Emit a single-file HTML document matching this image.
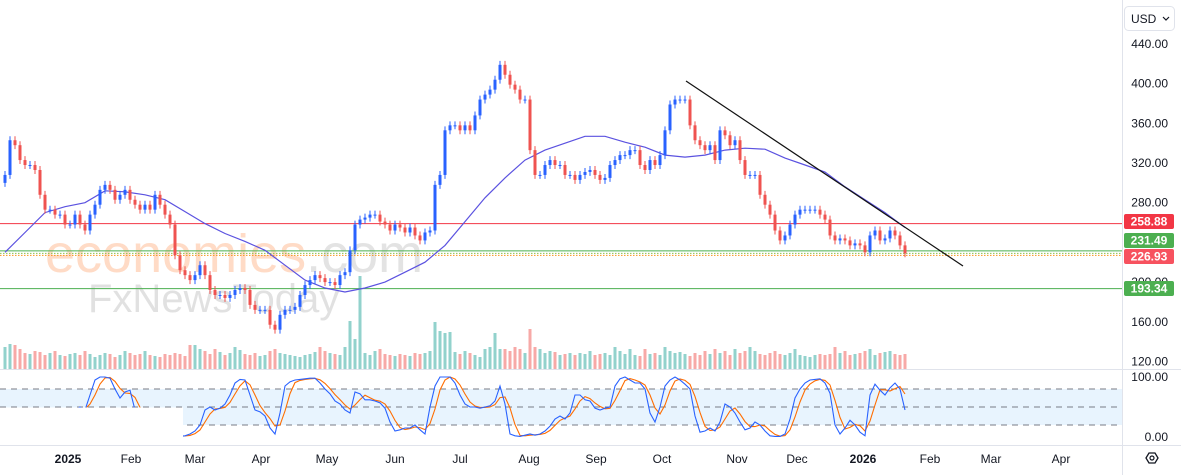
<!DOCTYPE html>
<html><head><meta charset="utf-8"><style>
html,body{margin:0;padding:0;background:#fff;overflow:hidden}
svg{display:block;font-family:"Liberation Sans",sans-serif}
</style></head><body>
<svg id="c" width="1181" height="475" viewBox="0 0 1181 475">
<rect width="1181" height="475" fill="#fff"/>
<g>
<text x="45" y="272" font-size="54" fill="#ffb080" fill-opacity="0.45">economies<tspan fill="#d0d0d0" fill-opacity="0.6">.com</tspan></text>
<text x="88" y="312" font-size="40" fill="#c8c8c8" fill-opacity="0.55">FxNewsToday</text>
</g>
<g id="vol"></g>
<g id="levels"></g>
<g id="ma"></g>
<g id="candles"></g>
<line x1="686" y1="81" x2="963" y2="266" stroke="#111" stroke-width="1.2"/>
<line x1="0" y1="369.5" x2="1181" y2="369.5" stroke="#e0e3eb"/>
<g id="stoch"></g>
<line x1="0" y1="445.5" x2="1181" y2="445.5" stroke="#e0e3eb"/>
<line x1="1122.5" y1="0" x2="1122.5" y2="475" stroke="#e0e3eb"/>
<g id="paxis"></g>
<g id="taxis"></g>
<g>
<rect x="1124.5" y="6.5" width="50" height="24" rx="4" fill="#fff" stroke="#e0e3eb"/>
<text x="1131" y="23" font-size="12" fill="#131722">USD</text>
<path d="M1163 17 l3 3 l3 -3" fill="none" stroke="#131722" stroke-width="1.2"/>
</g>
<g>
<polygon points="1146,458 1149,453 1155,453 1158,458 1155,463 1149,463" fill="none" stroke="#131722" stroke-width="1.3"/>
<circle cx="1152" cy="458" r="2" fill="none" stroke="#131722" stroke-width="1.2"/>
</g>
</svg>
<script>
const closes=[308,343,338,323,318,318,313,288,273,273,268,268,258,258,268,258,252,268,278,293,298,293,283,288,293,283,278,273,278,273,288,278,268,258,227,212,207,202,207,217,207,192,187,187,184,187,192,194,192,177,172,172,172,157,152,167,172,172,175,187,197,202,207,204,200,200,197,207,210,232,258,263,265,268,268,261,258,252,258,255,250,255,247,242,250,252,298,308,353,358,358,353,358,353,368,384,389,394,404,419,409,399,394,384,384,333,308,308,318,323,318,318,308,308,303,308,311,313,308,303,305,318,323,328,328,333,333,318,313,323,318,328,353,379,384,384,384,358,343,338,333,338,323,353,348,338,343,323,308,308,308,288,278,268,252,242,247,258,268,273,273,273,273,268,263,247,242,244,242,237,239,237,230,247,252,242,244,252,247,237,229];
const openFirst=300;
const volumes=[22,25,24,20,16,15,18,17,14,16,18,14,13,15,16,14,18,15,12,14,16,15,12,14,18,16,14,15,18,14,13,12,15,14,16,15,13,24,24,20,18,15,20,17,14,16,22,19,15,14,16,13,14,18,20,16,15,14,13,12,14,15,17,22,18,16,15,14,22,48,30,93,16,14,18,20,15,14,13,15,14,13,16,15,16,18,47,38,36,37,17,15,18,16,14,12,20,22,36,20,20,18,22,20,16,40,22,20,16,18,17,14,15,16,14,16,15,18,14,15,16,14,22,18,15,20,14,13,20,15,16,14,22,18,16,17,15,13,16,14,18,15,20,16,18,14,20,16,18,22,18,15,14,16,18,15,14,16,20,14,13,12,14,15,14,15,22,16,18,14,15,16,18,20,14,16,17,18,15,14,15];
const stochK=[40,45,40,35,30,25,30,20,15,15,20,30,35,40,45,50,45,70,95,100,100,98,80,65,75,78,45,25,15,10,10,8,5,3,2,1,2,5,10,20,45,50,45,48,55,70,90,96,95,70,45,42,35,15,5,40,85,92,95,96,97,98,98,90,80,72,60,55,45,40,75,72,62,62,60,57,48,25,10,12,15,15,20,12,5,50,85,100,100,100,90,70,55,50,50,48,50,52,60,85,55,5,2,1,3,5,3,5,10,18,30,35,30,40,70,70,62,60,48,45,48,50,85,97,100,95,90,90,80,40,25,50,85,95,100,95,88,80,35,8,10,15,10,25,55,50,40,25,12,15,25,20,10,2,1,1,5,30,65,80,90,95,96,97,90,73,20,5,15,28,20,8,2,70,88,78,70,82,90,80,45];
const maValues=[230,250,270,276,280,292,291,288,283,271,259,249,241,232,217,202,194,190,194,200,210,220,237,261,285,305,323,333,340,347,347,341,336,328,326,328,333,335,334,325,318,311,296,283,270,255];
const priceTicks=[440,400,360,320,280,200,160,120];
const levelValues=[258.88,231.49,226.93,193.34];
const monthLabels=["2025","Feb","Mar","Apr","May","Jun","Jul","Aug","Sep","Oct","Nov","Dec","2026","Feb","Mar","Apr"];
const monthPos=[68,131,195,261,327,395,460,529,596,662,737,797,863,930,991,1061];

const NS="http://www.w3.org/2000/svg";
const xOf=i=>5+5*i;
const yP=p=>44+(440-p)*0.992;
const yV=v=>369-v;
const yS=s=>437-s*0.6;
function mk(tag,attrs,parent){const e=document.createElementNS(NS,tag);for(const k in attrs)e.setAttribute(k,attrs[k]);parent.appendChild(e);return e;}
const G=id=>document.getElementById(id);

// volumes + candles
const n=Math.min(closes.length,volumes.length);
for(let i=0;i<closes.length;i++){
  const c=closes[i],o=i?closes[i-1]:openFirst,up=c>=o,x=xOf(i);
  if(i<volumes.length){
    const vb=mk('rect',{x:x-1.5,y:yV(volumes[i]),width:3,height:volumes[i],fill:up?'#26a69a':'#ef5350','fill-opacity':0.5},G('vol'));
    
    
  }
  const col=up?'#2962ff':'#ef5350';
  const hi=Math.max(o,c)+4,lo=Math.min(o,c)-4;
  const w=mk('line',{x1:x,x2:x,y1:yP(hi),y2:yP(lo),stroke:col,'stroke-width':1},G('candles'));
  
  
  const top=yP(Math.max(o,c)),bot=yP(Math.min(o,c));
  const b=mk('rect',{x:x-1.5,y:top,width:3,height:Math.max(1,bot-top),fill:col},G('candles'));
  
  
}
// MA
let d='';maValues.forEach((v,k)=>{d+=(k?'L':'M')+xOf(k*4)+' '+yP(v).toFixed(1);});
const mp=mk('path',{d:d,fill:'none',stroke:'#5b52e0','stroke-width':1.2},G('ma'));


// levels
const lvCols=['#f23645','#4caf50','#f7931a','#4caf50'];
const lvBox=['#f23645','#4caf50','#f7525f','#4caf50'];
const lvLabelY=[221,240,256,288];
levelValues.forEach((v,k)=>{
  const y=yP(v);
  const l=mk('line',{x1:0,x2:1122,y1:y,y2:y,stroke:lvCols[k],'stroke-width':1,'stroke-dasharray':k==2?'1.5 1.5':'none'},G('levels'));
  
  
  if(k==2){const l2=mk('line',{x1:0,x2:1122,y1:y-2,y2:y-2,stroke:'#8bc34a','stroke-width':1,'stroke-dasharray':'1.5 1.5'},G('levels'));
    
    }
});
// price axis
priceTicks.forEach(p=>{
  const t=mk('text',{x:1168,y:yP(p)+4,'font-size':12,fill:'#131722','text-anchor':'end'},G('paxis'));
  t.textContent=p.toFixed(2);
  
  
});
levelValues.forEach((v,k)=>{
  const r=mk('rect',{x:1124,y:lvLabelY[k]-7,width:50,height:15,rx:2,fill:lvBox[k]},G('paxis'));
  
  
  const t=mk('text',{x:1149,y:lvLabelY[k]+4.5,'font-size':12,'font-weight':'bold',fill:'#fff','text-anchor':'middle'},G('paxis'));
  t.textContent=v.toFixed(2);
  
  
});
[[100,'100.00'],[0,'0.00']].forEach(([s,l])=>{
  const t=mk('text',{x:1168,y:s?381:441,'font-size':12,fill:'#131722','text-anchor':'end'},G('paxis'));
  t.textContent=l;
  
  
});
// stochastic
const S=G('stoch');
const band=mk('rect',{x:0,y:yS(80),width:1122,height:yS(20)-yS(80),fill:'#2196f3','fill-opacity':0.1},S);


[80,50,20].forEach(v=>{
  const l=mk('line',{x1:0,x2:1122,y1:yS(v),y2:yS(v),stroke:'#787b86','stroke-dasharray':'6 5','stroke-width':1},S);
  
  
});
const stochD=stochK.map((v,i)=>{const a=stochK.slice(Math.max(0,i-2),i+1);return a.reduce((s,x)=>s+x,0)/a.length;});
const pathOf=arr=>arr.map((v,i)=>(i?'L':'M')+xOf(i)+' '+yS(v).toFixed(1)).join('');
const dl=mk('path',{d:pathOf(stochD),fill:'none',stroke:'#ff6d00','stroke-width':1.1},S);


const kl=mk('path',{d:pathOf(stochK),fill:'none',stroke:'#2962ff','stroke-width':1.1},S);


const wb=mk('rect',{x:0,y:yS(50)+0.5,width:183,height:yS(0)-yS(50)+3,fill:'#fff'},S);


// time axis
monthLabels.forEach((m,k)=>{
  const bold=/^\d{4}$/.test(m);
  const t=mk('text',{x:monthPos[k],y:463,'font-size':12,fill:'#131722','text-anchor':'middle','font-weight':bold?'bold':'normal'},G('taxis'));
  t.textContent=m;
  
  
});
</script>
</body></html>
